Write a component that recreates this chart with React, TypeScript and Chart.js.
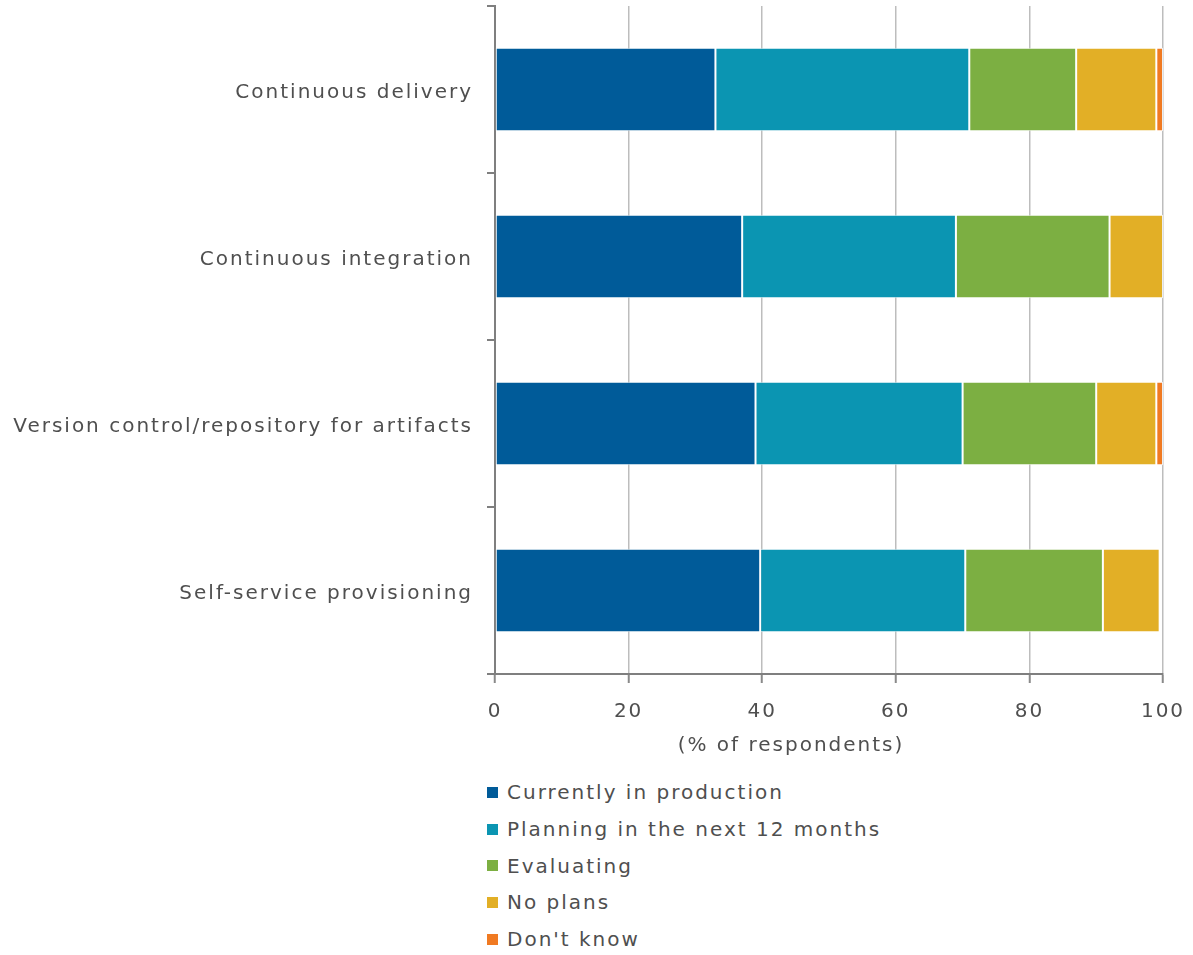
import React, { useEffect, useRef } from "react";
import { Chart, registerables } from "chart.js";

Chart.register(...registerables);

const categories = [
  "Continuous delivery",
  "Continuous integration",
  "Version control/repository for artifacts",
  "Self-service provisioning",
];
const seriesNames = [
  "Currently in production",
  "Planning in the next 12 months",
  "Evaluating",
  "No plans",
  "Don't know",
];
const production = [33, 37, 39, 39.7];
const planning = [38, 32, 31, 30.7];
const evaluating = [16, 23, 20, 20.6];
const noPlans = [12, 8, 9, 8.5];
const dontKnow = [1, 0, 1, 0];
const seriesValues = [production, planning, evaluating, noPlans, dontKnow];
const colors = ["#005B99", "#0B95B2", "#7CAF42", "#E2AF26", "#F07A22"];
const xTicks = [0, 20, 40, 60, 80, 100];
const axisTitle = "(% of respondents)";

const FONT = "'DejaVu Sans', sans-serif";
const TEXT_COLOR = "#4f4f4f";
const SPACING = "2px";

export default function App() {
  const canvasRef = useRef<HTMLCanvasElement | null>(null);

  useEffect(() => {
    const canvas = canvasRef.current;
    if (!canvas) return;

    const spacingPlugin = {
      id: "spacing",
      beforeUpdate(chart: any) {
        chart.ctx.letterSpacing = SPACING;
      },
      beforeDraw(chart: any) {
        chart.ctx.letterSpacing = SPACING;
      },
      afterDraw(chart: any) {
        const ctx = chart.ctx;
        ctx.save();
        ctx.letterSpacing = SPACING;
        ctx.font = `20px ${FONT}`;
        ctx.fillStyle = TEXT_COLOR;
        ctx.textAlign = "center";
        ctx.textBaseline = "middle";
        ctx.fillText(axisTitle, chart.chartArea.left + 296, 746);
        ctx.restore();
      },
    };

    const chart = new Chart(canvas, {
      type: "bar",
      data: {
        labels: categories,
        datasets: seriesNames.map((name, i) => ({
          label: name,
          data: seriesValues[i],
          backgroundColor: colors[i],
          borderColor: "rgba(255,255,255,0.75)",
          borderWidth: 1,
          borderSkipped: false,
          barPercentage: 0.5,
          categoryPercentage: 1,
        })),
      },
      options: {
        indexAxis: "y",
        animation: false,
        responsive: false,
        maintainAspectRatio: false,
        layout: { padding: { top: 6, right: 30, bottom: 0, left: 0 } },
        plugins: {
          legend: { display: false },
          tooltip: { enabled: false },
        },
        scales: {
          x: {
            type: "linear",
            stacked: true,
            min: 0,
            max: 100,
            afterBuildTicks: (s: any) => {
              s.ticks = xTicks.map((v) => ({ value: v }));
            },
            afterFit: (s: any) => {
              s.height = 96;
              s.paddingLeft = 0;
              s.paddingRight = 0;
            },
            ticks: {
              stepSize: 20,
              font: { family: FONT, size: 20 },
              color: TEXT_COLOR,
              padding: 17,
            },
            grid: {
              color: "#bdbdbd",
              lineWidth: 1.5,
              tickLength: 9,
              tickColor: "#8a8a8a",
              tickWidth: 2,
            },
            border: { display: true, color: "#7f7f7f", width: 2 },
          },
          y: {
            type: "category",
            stacked: true,
            offset: true,
            afterFit: (s: any) => {
              s.width = 495;
              s.paddingTop = 0;
              s.paddingBottom = 0;
            },
            ticks: {
              font: { family: FONT, size: 20 },
              color: TEXT_COLOR,
              padding: 14,
              labelOffset: 3,
            },
            grid: {
              drawOnChartArea: false,
              offset: true,
              tickLength: 8,
              color: "#7f7f7f",
              lineWidth: 2,
            },
            border: { display: true, color: "#7f7f7f", width: 2 },
          },
        },
      },
      plugins: [spacingPlugin],
    } as any);

    return () => chart.destroy();
  }, []);

  return (
    <div style={{ position: "absolute", left: 0, top: 0, width: 1193, height: 955, background: "#fff" }}>
      <canvas ref={canvasRef} width={1193} height={770} style={{ display: "block", width: 1193, height: 770 }} />
      <div style={{ position: "absolute", left: 487, top: 774 }}>
        {seriesNames.map((name, i) => (
          <div
            key={name}
            style={{
              display: "flex",
              alignItems: "center",
              height: 36.7,
              fontFamily: FONT,
              fontSize: 20,
              letterSpacing: SPACING,
              color: TEXT_COLOR,
              whiteSpace: "nowrap",
            }}
          >
            <span style={{ display: "inline-block", width: 11, height: 11, background: colors[i], marginRight: 9 }} />
            <span>{name}</span>
          </div>
        ))}
      </div>
    </div>
  );
}
